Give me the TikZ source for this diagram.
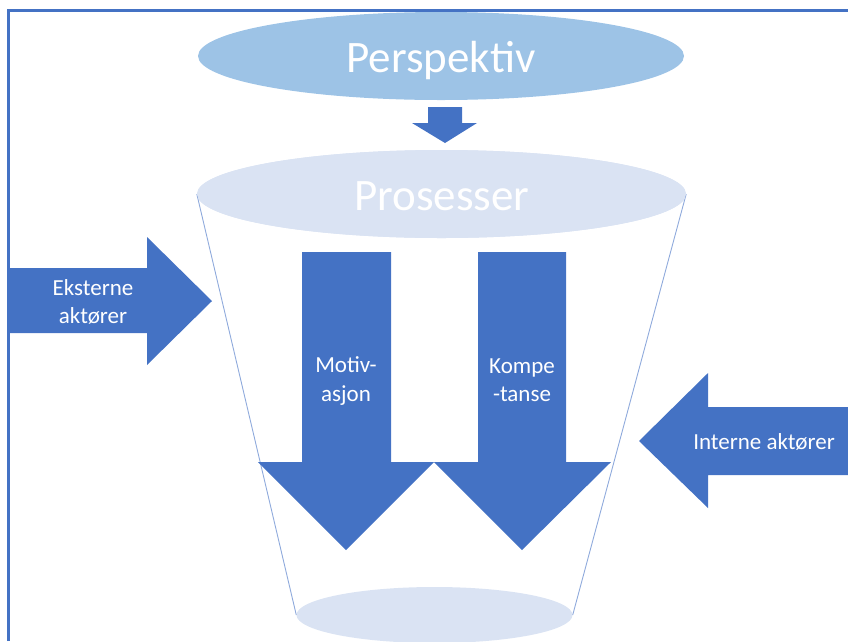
\documentclass[tikz,border=0pt]{standalone}
\usepackage{fontspec}
\setmainfont{Carlito}
\usetikzlibrary{shapes.geometric}
\definecolor{arrowblue}{HTML}{4472C4}
\definecolor{perspblue}{HTML}{9DC3E6}
\definecolor{paleblue}{HTML}{DAE3F3}
\definecolor{rimblue}{HTML}{8FAADC}
\begin{document}
\begin{tikzpicture}[x=1pt,y=-1pt,
  bigarrow/.style={fill=arrowblue, draw=none},
  disc/.style={ellipse, draw=none, inner sep=0pt},
  bigtext/.style={text=white, font=\fontsize{45}{54}\selectfont, inner sep=0pt},
  smalltext/.style={text=white, font=\fontsize{23}{28.5}\selectfont, align=center, inner sep=0pt},
  rim/.style={draw=rimblue, line width=0.9pt}]
\useasboundingbox (0,0) rectangle (848,641);
\clip (0,0) rectangle (848,641);
% frame
\draw[arrowblue, line width=3pt] (8,641) -- (8,10) -- (848,10);

% the two discs and the funnel between them
\node[disc, fill=paleblue, minimum width=489pt, minimum height=88pt] (proc) at (441.5,194) {};
\node[disc, fill=paleblue, minimum width=276pt, minimum height=56pt] (bottom) at (434.5,615) {};
\draw[rim] (proc.west) -- (bottom.west);
\draw[rim] (proc.east) -- (bottom.east);
\node[disc, fill=paleblue, minimum width=489pt, minimum height=88pt] at (441.5,194) {};
\node[bigtext, anchor=base] (procT) at (442,210) {Prosesser};

% top ellipse
\node[disc, fill=perspblue, minimum width=486pt, minimum height=88pt] (persp) at (441,56) {};
\node[bigtext, anchor=base] (perspT) at (441,72) {Perspektiv};

% small arrow between the ellipses
\fill[arrowblue] (428,107) -- (462,107) -- (462,123) -- (477,123) -- (445,143)
  -- (412,123) -- (428,123) -- cycle;

% two downward arrows inside the funnel
\fill[arrowblue] (302,252) -- (391,252) -- (391,462) -- (434,462) -- (346,550)
  -- (258,462) -- (302,462) -- cycle;
\fill[arrowblue] (478,252) -- (566,252) -- (566,462) -- (611,462) -- (522,550)
  -- (434,462) -- (478,462) -- cycle;
\node[smalltext] (motiv) at (346,381) {Motiv-\\asjon};
\node[smalltext] (kompe) at (522,380) {Kompe\\-tanse};

% external actors (from the left)
\fill[arrowblue] (8,268) -- (147,268) -- (147,237) -- (212,301) -- (147,365)
  -- (147,333) -- (8,333) -- cycle;
\node[smalltext] (ekst) at (93,302) {Eksterne\\aktører};

% internal actors (from the right)
\fill[arrowblue] (848,407) -- (708,407) -- (708,373) -- (639,441) -- (708,508)
  -- (708,475) -- (848,475) -- cycle;
\node[smalltext, anchor=base] (intern) at (764,449) {Interne aktører};
\end{tikzpicture}
\end{document}
